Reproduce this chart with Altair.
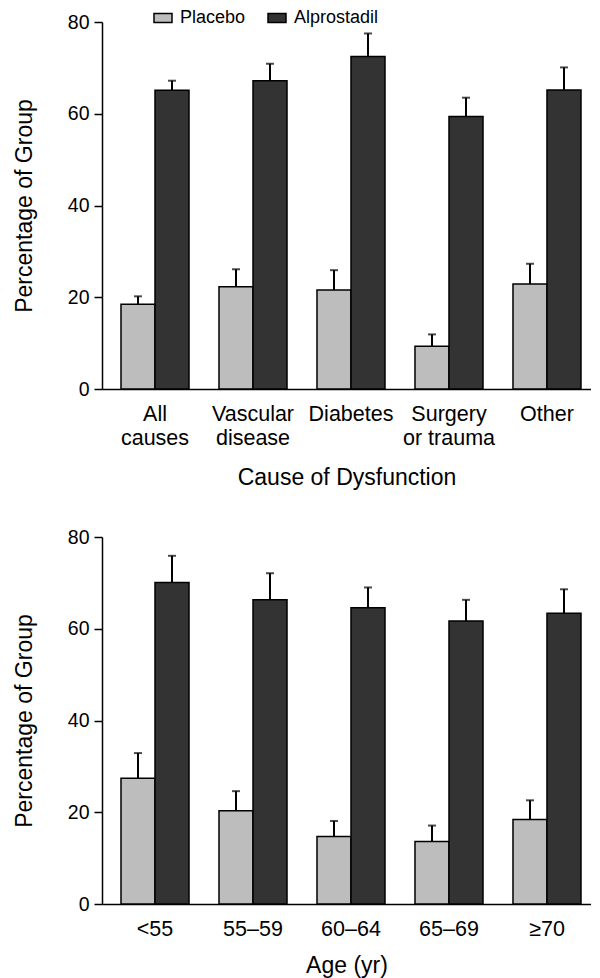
import altair as alt
import pandas as pd

groups = ["Placebo", "Alprostadil"]
colors = ["#bdbdbd", "#333333"]

cause_cats = ["All causes", "Vascular disease", "Diabetes", "Surgery or trauma", "Other"]
cause_placebo = [18.5, 22.3, 21.6, 9.3, 22.9]
cause_placebo_err = [1.7, 3.8, 4.3, 2.6, 4.4]
cause_alpro = [65.1, 67.2, 72.5, 59.4, 65.2]
cause_alpro_err = [2.1, 3.7, 5.0, 4.1, 4.9]

age_cats = ["<55", "55–59", "60–64", "65–69", "≥70"]
age_placebo = [27.4, 20.3, 14.7, 13.6, 18.4]
age_placebo_err = [5.5, 4.3, 3.4, 3.5, 4.2]
age_alpro = [70.1, 66.3, 64.6, 61.7, 63.4]
age_alpro_err = [5.8, 5.8, 4.4, 4.6, 5.2]

y_ticks = [0, 20, 40, 60, 80]
FONT = "Liberation Sans"


def panel(cats, pl, ple, al, ale, xtitle, show_legend, title_pad):
    rows = []
    for i, c in enumerate(cats):
        rows.append({"cat": c, "grp": groups[0], "val": pl[i], "top": pl[i] + ple[i]})
        rows.append({"cat": c, "grp": groups[1], "val": al[i], "top": al[i] + ale[i]})
    df = pd.DataFrame(rows)

    x = alt.X(
        "cat:N",
        sort=cats,
        scale=alt.Scale(paddingInner=0.306, paddingOuter=0.148, align=0.655),
        axis=alt.Axis(
            title=xtitle,
            labelAngle=0,
            ticks=False,
            labelPadding=14,
            labelFontSize=21.5,
            labelLineHeight=24,
            labelExpr="indexof(datum.label, ' ') > 0 ? [slice(datum.label, 0, indexof(datum.label, ' ')), slice(datum.label, indexof(datum.label, ' ') + 1)] : datum.label",
            titlePadding=title_pad,
            titleFontSize=23,
        ),
    )
    xo = alt.XOffset("grp:N", sort=groups, scale=alt.Scale(paddingInner=0, paddingOuter=0))
    y = alt.Y(
        "val:Q",
        scale=alt.Scale(domain=[0, 80], nice=False),
        axis=alt.Axis(
            values=y_ticks,
            title="Percentage of Group",
            grid=False,
            tickSize=8,
            tickWidth=1.5,
            tickColor="black",
            labelPadding=5,
            labelFontSize=19.5,
            titleFontSize=23,
            titlePadding=31,
        ),
    )
    if show_legend:
        legend = alt.Legend(
            title=None,
            orient="none",
            legendX=51,
            legendY=-14,
            direction="horizontal",
            symbolType="M-1,-0.5L1,-0.5L1,0.5L-1,0.5Z",
            symbolSize=324,
            symbolStrokeColor="black",
            symbolStrokeWidth=1.5,
            labelFontSize=18,
            labelFont=FONT,
            labelColor="black",
            labelOffset=7,
            columnPadding=19,
        )
    else:
        legend = None
    color = alt.Color("grp:N", sort=groups, scale=alt.Scale(domain=groups, range=colors), legend=legend)

    base = alt.Chart(df)
    bars = base.mark_bar(stroke="black", strokeWidth=1.5).encode(x=x, xOffset=xo, y=y, color=color)
    rules = base.mark_rule(color="black", strokeWidth=2).encode(
        x=x, xOffset=xo, y=alt.Y("top:Q"), y2="val:Q"
    )
    caps = base.mark_tick(color="black", size=8, thickness=2, orient="horizontal").encode(
        x=x, xOffset=xo, y=alt.Y("top:Q")
    )
    return alt.layer(bars, rules, caps).properties(width=489, height=367)


top = panel(cause_cats, cause_placebo, cause_placebo_err, cause_alpro, cause_alpro_err,
            "Cause of Dysfunction", True, 18)
bottom = panel(age_cats, age_placebo, age_placebo_err, age_alpro, age_alpro_err,
               "Age (yr)", False, 15)

chart = (
    alt.vconcat(top, bottom, spacing=37)
    .resolve_scale(color="independent")
    .properties(padding={"left": 5, "top": 0, "right": 0, "bottom": 0})
    .configure_view(stroke=None)
    .configure_axis(
        labelFont=FONT,
        titleFont=FONT,
        labelColor="black",
        titleColor="black",
        titleFontWeight="normal",
        domainColor="black",
        domainWidth=1.5,
    )
)

chart.save("out.html", embed_options={"renderer": "svg", "actions": False})
